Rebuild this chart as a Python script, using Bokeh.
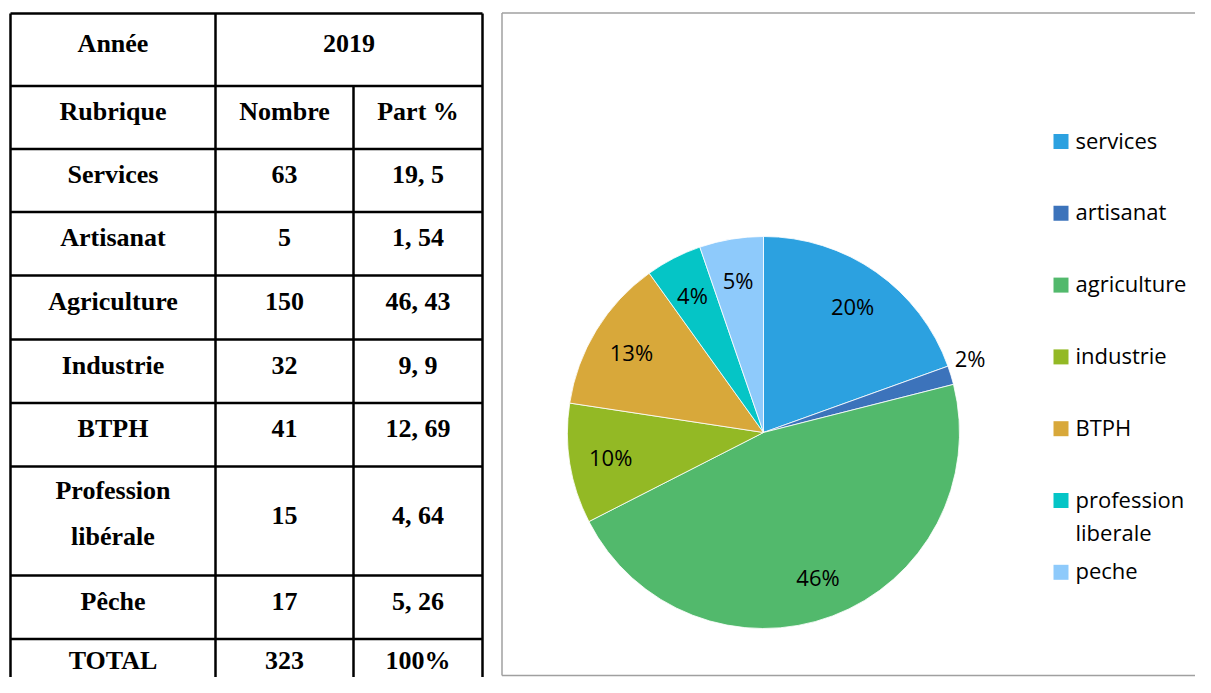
import math
from bokeh.plotting import figure
from bokeh.models import ColumnDataSource, Range1d
from bokeh.core.properties import value
from bokeh.embed import file_html
from bokeh.resources import INLINE

# ---------------- data ----------------
year_label = "Année"
year = "2019"
header_cols = ["Rubrique", "Nombre", "Part %"]
rubriques = ["Services", "Artisanat", "Agriculture", "Industrie", "BTPH",
             "Profession libérale", "Pêche"]
nombres = [63, 5, 150, 32, 41, 15, 17]
parts = ["19, 5", "1, 54", "46, 43", "9, 9", "12, 69", "4, 64", "5, 26"]
total_label = "TOTAL"
total_nombre = "323"
total_part = "100%"

categories = ["services", "artisanat", "agriculture", "industrie", "BTPH",
              "profession liberale", "peche"]
pie_labels = ["20%", "2%", "46%", "10%", "13%", "4%", "5%"]
colors = ["#2ca1e0", "#3c73bb", "#52b96c", "#93b925", "#d8a83a", "#05c5c6", "#8ecafb"]

# ---------------- canvas (1 unit = 1 px) ----------------
W, H = 1195, 677
p = figure(width=W, height=H, x_range=Range1d(0, W), y_range=Range1d(693 - H, 693),
           output_backend="svg", toolbar_location=None, min_border=0,
           x_axis_location=None, y_axis_location=None)
p.grid.visible = False
p.outline_line_color = None
p.background_fill_color = "white"
p.border_fill_color = "white"


def Y(v):
    return 693 - v


# ---------------- table ----------------
row_edges = [13, 85.5, 148.5, 211.5, 275, 339, 402.5, 466, 575, 638.5, 702]
col_edges = [10, 215, 353, 482]
col_centers = [(col_edges[i] + col_edges[i + 1]) / 2 for i in range(3)]

hx0, hx1, hy0, hy1 = [], [], [], []
for r in row_edges:
    hx0.append(col_edges[0]); hx1.append(col_edges[-1]); hy0.append(Y(r)); hy1.append(Y(r))
vx0, vx1, vy0, vy1 = [], [], [], []
for i, c in enumerate(col_edges):
    top = row_edges[1] if i == 2 else row_edges[0]
    vx0.append(c); vx1.append(c); vy0.append(Y(top)); vy1.append(Y(row_edges[-1]))
p.segment(x0=hx0 + vx0, y0=hy0 + vy0, x1=hx1 + vx1, y1=hy1 + vy1,
          line_color="black", line_width=2.5)

tx, ty, tt = [], [], []


def cell(text, xc, row, wrap=False, off=-6):
    c = (row_edges[row] + row_edges[row + 1]) / 2
    words = text.split(" ")
    if wrap and row_edges[row + 1] - row_edges[row] > 90 and len(words) > 1:
        for k, w in enumerate(words):
            tx.append(xc); ty.append(Y(c - 30.5 + 46 * k)); tt.append(w)
    else:
        tx.append(xc); ty.append(Y(c + off)); tt.append(text)


cell(year_label, col_centers[0], 0)
cell(year, (col_edges[1] + col_edges[3]) / 2, 0)
for j, h in enumerate(header_cols):
    cell(h, col_centers[j], 1)
for i, (rb, nb, pt) in enumerate(zip(rubriques, nombres, parts)):
    cell(rb, col_centers[0], i + 2, wrap=True)
    cell(str(nb), col_centers[1], i + 2)
    cell(pt, col_centers[2], i + 2)
cell(total_label, col_centers[0], 9, off=-10)
cell(total_nombre, col_centers[1], 9, off=-10)
cell(total_part, col_centers[2], 9, off=-10)

p.text(x=tx, y=ty, text=tt, text_font=value("Liberation Serif"), text_font_style="bold",
       text_font_size="26px", text_align="center", text_baseline="middle",
       text_color="black")

# ---------------- chart frame ----------------
fl, ft, fr, fb = 501.5, 12.5, 1220, 675
p.segment(x0=[fl, fl, fl], y0=[Y(ft), Y(ft), Y(fb)], x1=[fl, fr, fr], y1=[Y(fb), Y(ft), Y(fb)],
          line_color="#a0a0a0", line_width=1.5)

# ---------------- pie ----------------
cx, cy, R = 763, 432, 196
total = sum(nombres)
starts, ends, lx, ly = [], [], [], []
cum = 0.0
for v in nombres:
    a0 = math.pi / 2 - 2 * math.pi * (cum + v) / total
    a1 = math.pi / 2 - 2 * math.pi * cum / total
    starts.append(a0); ends.append(a1)
    mid = (a0 + a1) / 2
    if v / total >= 0.03:
        lx.append(cx + 0.79 * R * math.cos(mid))
        ly.append(Y(cy) + 0.79 * R * math.sin(mid))
    else:
        # small slice: label outside, near the slice's upper edge
        lx.append(cx + 1.12 * R * math.cos(a1))
        ly.append(Y(cy) + 1.12 * R * math.sin(a1))
    cum += v

src = ColumnDataSource(dict(start=starts, end=ends, color=colors, lx=lx, ly=ly, lab=pie_labels))
p.wedge(x=cx, y=Y(cy), radius=R, start_angle="start", end_angle="end",
        fill_color="color", line_color="white", line_width=0.8, source=src)
p.text(x="lx", y="ly", text="lab", source=src, text_font=value("Open Sans"),
       text_font_size="22px", text_align="center", text_baseline="middle",
       text_color="black")

# ---------------- legend ----------------
sq_x, txt_x, y0, step = 1060.5, 1075, 141, 71.8
lgx, lgy, lgt, sqy = [], [], [], []
for i, name in enumerate(categories):
    yc = y0 + step * i
    sqy.append(Y(yc))
    words = name.split(" ")
    if len(name) > 12 and len(words) > 1:
        for k, w in enumerate(words):
            lgx.append(txt_x); lgy.append(Y(yc - 2 + 33 * k)); lgt.append(w)
    else:
        lgx.append(txt_x); lgy.append(Y(yc - 2)); lgt.append(name)
p.rect(x=[sq_x] * len(categories), y=sqy, width=15, height=15, fill_color=colors,
       line_color=None)
p.text(x=lgx, y=lgy, text=lgt, text_font=value("Open Sans"), text_font_size="22px",
       text_align="left", text_baseline="middle", text_color="black")

open("out.html", "w").write(file_html(p, INLINE))
